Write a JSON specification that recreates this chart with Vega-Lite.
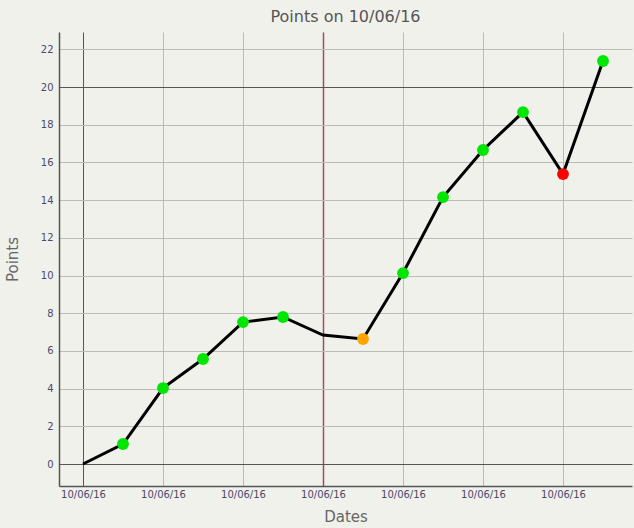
{
  "$schema": "https://vega.github.io/schema/vega-lite/v6.json",
  "autosize": "none",
  "width": 573,
  "height": 454,
  "padding": {"left": 59, "top": 32, "right": 2, "bottom": 42},
  "background": "#f1f1ec",
  "config": {
    "view": {"stroke": null},
    "font": "DejaVu Sans"
  },
  "title": {
    "text": "Points on 10/06/16",
    "fontSize": 16,
    "font": "DejaVu Sans",
    "fontWeight": "normal",
    "color": "#555555",
    "offset": 7,
    "anchor": "middle"
  },
  "data": {
    "values": [
      {"i": 0, "points": 0, "status": "none"},
      {"i": 1, "points": 1.06, "status": "good"},
      {"i": 2, "points": 4.03, "status": "good"},
      {"i": 3, "points": 5.57, "status": "good"},
      {"i": 4, "points": 7.53, "status": "good"},
      {"i": 5, "points": 7.8, "status": "good"},
      {"i": 6, "points": 6.84, "status": "none"},
      {"i": 7, "points": 6.63, "status": "warn"},
      {"i": 8, "points": 10.13, "status": "good"},
      {"i": 9, "points": 14.16, "status": "good"},
      {"i": 10, "points": 16.66, "status": "good"},
      {"i": 11, "points": 18.67, "status": "good"},
      {"i": 12, "points": 15.38, "status": "bad"},
      {"i": 13, "points": 21.38, "status": "good"}
    ]
  },
  "encoding": {
    "x": {
      "field": "i",
      "type": "quantitative",
      "scale": {"domain": [-0.6, 13.725], "nice": false, "zero": false},
      "axis": {
        "title": "Dates",
        "titleFont": "DejaVu Sans",
        "titleFontSize": 15,
        "titleFontWeight": "normal",
        "titleColor": "#666666",
        "titlePadding": 10,
        "values": [0, 2, 4, 6, 8, 10, 12],
        "labelExpr": "'10/06/16'",
        "labelFontSize": 10,
        "labelColor": "#4a4a6e",
        "labelPadding": 3,
        "ticks": false,
        "domainColor": "#555555",
        "domainWidth": 1.5,
        "grid": true,
        "gridColor": {"condition": [{"test": "datum.value == 0", "value": "#555555"}, {"test": "datum.value == 6", "value": "#9a5058"}], "value": "#bbbbbb"},
        "gridWidth": {"condition": {"test": "datum.value == 6", "value": 1.5}, "value": 1},
        "gridOpacity": 1
      }
    },
    "y": {
      "field": "points",
      "type": "quantitative",
      "scale": {"domain": [-1.167, 22.92], "nice": false, "zero": false},
      "axis": {
        "title": "Points",
        "titleFont": "DejaVu Sans",
        "titleFontSize": 15,
        "titleFontWeight": "normal",
        "titleColor": "#666666",
        "titlePadding": 20,
        "values": [0, 2, 4, 6, 8, 10, 12, 14, 16, 18, 20, 22],
        "labelFontSize": 10,
        "labelColor": "#4a4a6e",
        "labelPadding": 6,
        "ticks": false,
        "domainColor": "#555555",
        "domainWidth": 1.5,
        "grid": true,
        "gridColor": {"condition": {"test": "datum.value == 0 || datum.value == 20", "value": "#555555"}, "value": "#bbbbbb"},
        "gridOpacity": 1
      }
    }
  },
  "layer": [
    {
      "mark": {"type": "line", "color": "#000000", "strokeWidth": 3},
      "encoding": {}
    },
    {
      "transform": [{"filter": "datum.status != 'none'"}],
      "mark": {"type": "circle", "opacity": 1, "size": 140},
      "encoding": {
        "color": {
          "field": "status",
          "type": "nominal",
          "scale": {"domain": ["good", "warn", "bad"], "range": ["#00e600", "#ffa500", "#ff0000"]},
          "legend": null
        }
      }
    }
  ]
}
